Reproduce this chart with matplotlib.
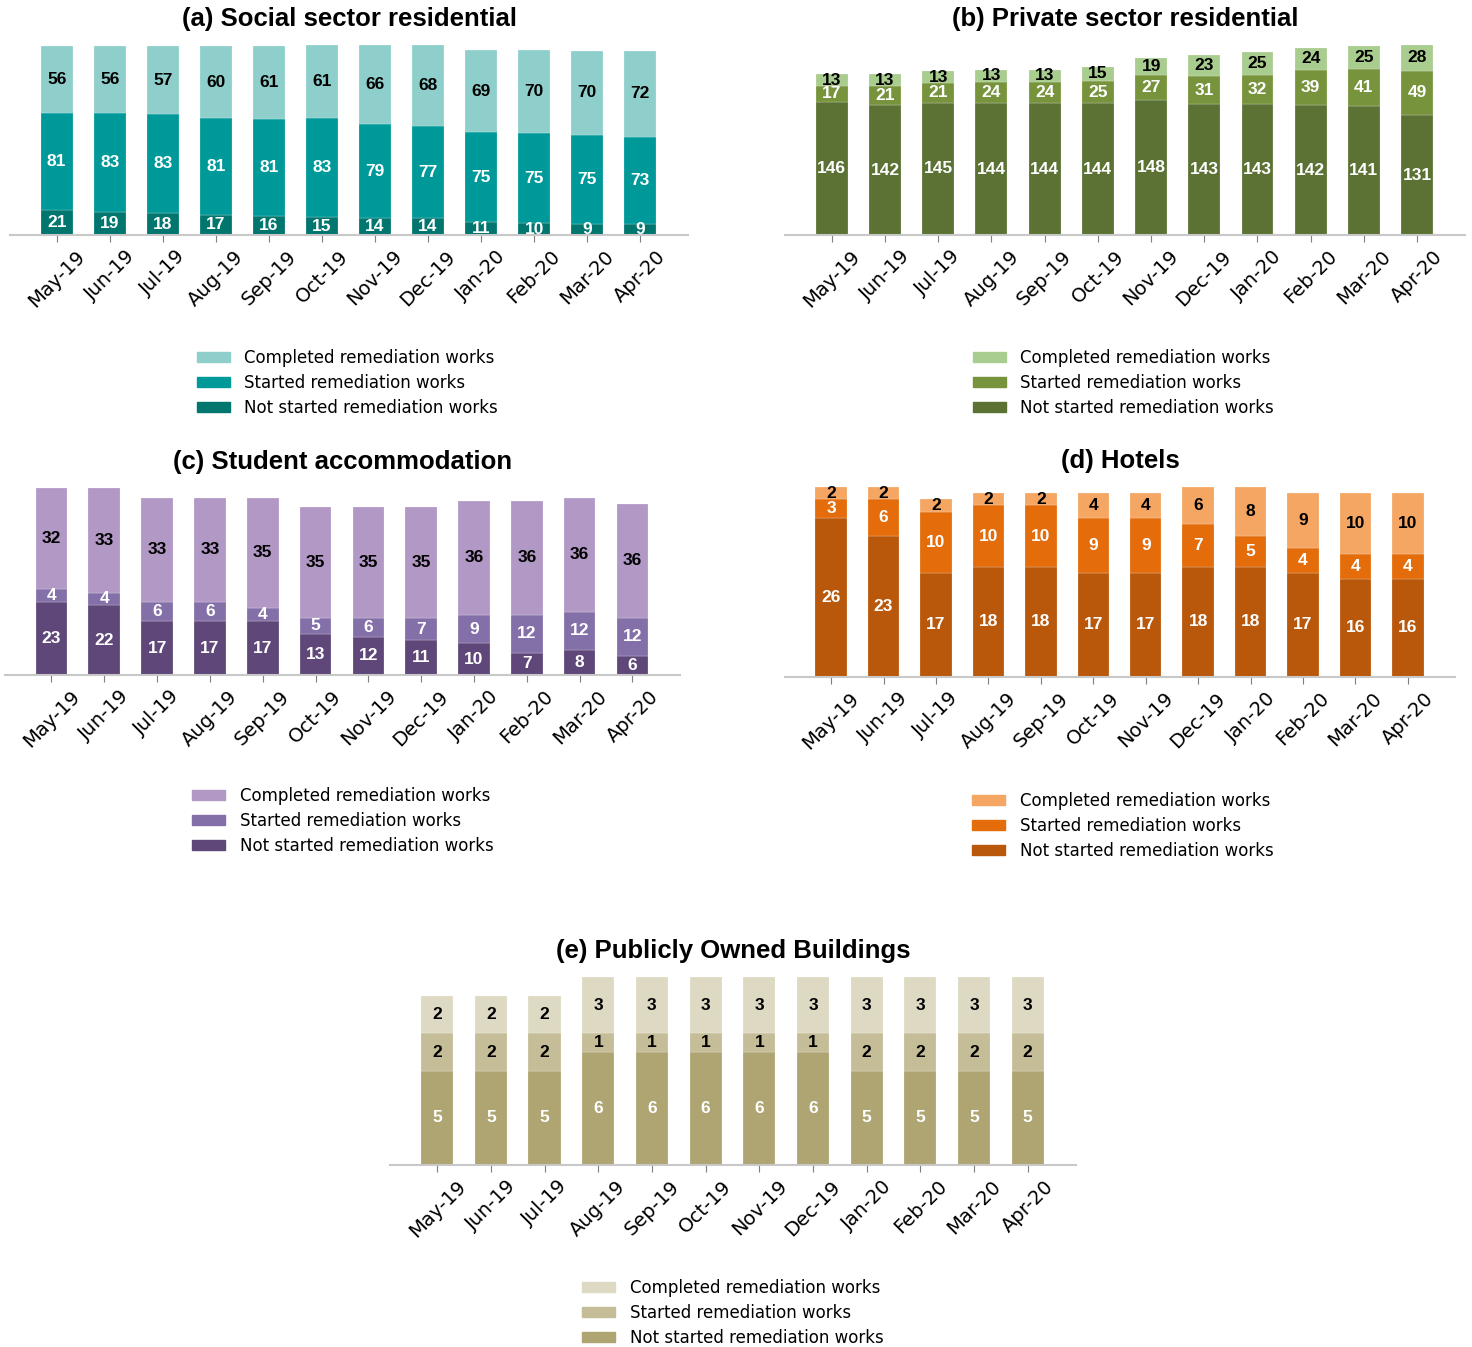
import numpy as np
import matplotlib.pyplot as plt
from matplotlib.patches import Patch

months = ['May-19', 'Jun-19', 'Jul-19', 'Aug-19', 'Sep-19', 'Oct-19',
          'Nov-19', 'Dec-19', 'Jan-20', 'Feb-20', 'Mar-20', 'Apr-20']
legend_labels = ['Completed remediation works', 'Started remediation works',
                 'Not started remediation works']

# (a) Social sector residential
social_not_started = [21, 19, 18, 17, 16, 15, 14, 14, 11, 10, 9, 9]
social_started = [81, 83, 83, 81, 81, 83, 79, 77, 75, 75, 75, 73]
social_completed = [56, 56, 57, 60, 61, 61, 66, 68, 69, 70, 70, 72]

# (b) Private sector residential
private_not_started = [146, 142, 145, 144, 144, 144, 148, 143, 143, 142, 141, 131]
private_started = [17, 21, 21, 24, 24, 25, 27, 31, 32, 39, 41, 49]
private_completed = [13, 13, 13, 13, 13, 15, 19, 23, 25, 24, 25, 28]

# (c) Student accommodation
student_not_started = [23, 22, 17, 17, 17, 13, 12, 11, 10, 7, 8, 6]
student_started = [4, 4, 6, 6, 4, 5, 6, 7, 9, 12, 12, 12]
student_completed = [32, 33, 33, 33, 35, 35, 35, 35, 36, 36, 36, 36]

# (d) Hotels
hotel_not_started = [26, 23, 17, 18, 18, 17, 17, 18, 18, 17, 16, 16]
hotel_started = [3, 6, 10, 10, 10, 9, 9, 7, 5, 4, 4, 4]
hotel_completed = [2, 2, 2, 2, 2, 4, 4, 6, 8, 9, 10, 10]

# (e) Publicly owned buildings
public_not_started = [5, 5, 5, 6, 6, 6, 6, 6, 5, 5, 5, 5]
public_started = [2, 2, 2, 1, 1, 1, 1, 1, 2, 2, 2, 2]
public_completed = [2, 2, 2, 3, 3, 3, 3, 3, 3, 3, 3, 3]

W, H = 1472, 1347
fig = plt.figure(figsize=(W / 100, H / 100), dpi=100)

num_font = ['Liberation Sans Narrow', 'Liberation Sans', 'DejaVu Sans']
title_font = ['Liberation Sans', 'DejaVu Sans']


def panel(rect_px, title, not_started, started, completed, colors, label_colors, legend_px):
    # rect_px = (left, right, baseline, top) in pixels
    l, r, base, top = rect_px
    ax = fig.add_axes([l / W, 1 - base / H, (r - l) / W, (base - top) / H])
    x = np.arange(len(months))
    ns = np.array(not_started)
    st = np.array(started)
    co = np.array(completed)
    segs = [(ns, 0 * ns, colors[2], label_colors[2]),
            (st, ns, colors[1], label_colors[1]),
            (co, ns + st, colors[0], label_colors[0])]
    for vals, bottom, c, lc in segs:
        ax.bar(x, vals, 0.6, bottom=bottom, color=c, edgecolor='#ffffff80', linewidth=0.3)
        for xi, v, b in zip(x, vals, bottom):
            ax.text(xi, b + v / 2, str(v), ha='center', va='center', color=lc,
                    fontsize=12.5, fontweight='bold', family=num_font)
    ax.set_ylim(0, (ns + st + co).max())
    ax.set_xlim(-0.88, len(months) - 0.1)
    for s in ['top', 'right', 'left']:
        ax.spines[s].set_visible(False)
    ax.spines['bottom'].set_color('#c8c8c8')
    ax.spines['bottom'].set_linewidth(1.5)
    ax.set_yticks([])
    ax.set_xticks(x)
    ax.set_xticklabels(months, rotation=45, fontsize=14)
    ax.tick_params(axis='x', colors='#7f7f7f', length=5, labelcolor='black')
    ax.set_title(title, fontsize=18.5, fontweight='bold', family=title_font, pad=13.5)
    handles = [Patch(color=c) for c in colors]
    ax.legend(handles, legend_labels, loc='upper left', frameon=False, fontsize=12,
              bbox_to_anchor=(legend_px[0] / W, 1 - legend_px[1] / H),
              bbox_transform=fig.transFigure, borderpad=0, borderaxespad=0,
              handlelength=2.0, handleheight=0.6, handletextpad=0.85, labelspacing=0.42)
    return ax


panel((10, 688, 235, 45), '(a) Social sector residential',
      social_not_started, social_started, social_completed,
      ['#8ecfcb', '#009999', '#00766f'], ['black', 'white', 'white'], (197, 349))

panel((785, 1465, 235, 45), '(b) Private sector residential',
      private_not_started, private_started, private_completed,
      ['#a9cc8f', '#77933c', '#5b7234'], ['black', 'white', 'white'], (973, 349))

panel((5, 680, 675, 488), '(c) Student accommodation',
      student_not_started, student_started, student_completed,
      ['#b298c5', '#8470a9', '#5f4879'], ['black', 'white', 'white'], (192, 787))

panel((785, 1455, 677, 487), '(d) Hotels',
      hotel_not_started, hotel_started, hotel_completed,
      ['#f5a662', '#e46c0a', '#b9570a'], ['black', 'white', 'white'], (972, 792))

panel((390, 1076, 1165, 977), '(e) Publicly Owned Buildings',
      public_not_started, public_started, public_completed,
      ['#ddd9c3', '#c4bd97', '#afa572'], ['black', 'black', 'white'], (582, 1279))

plt.savefig('out.png', dpi=100)
